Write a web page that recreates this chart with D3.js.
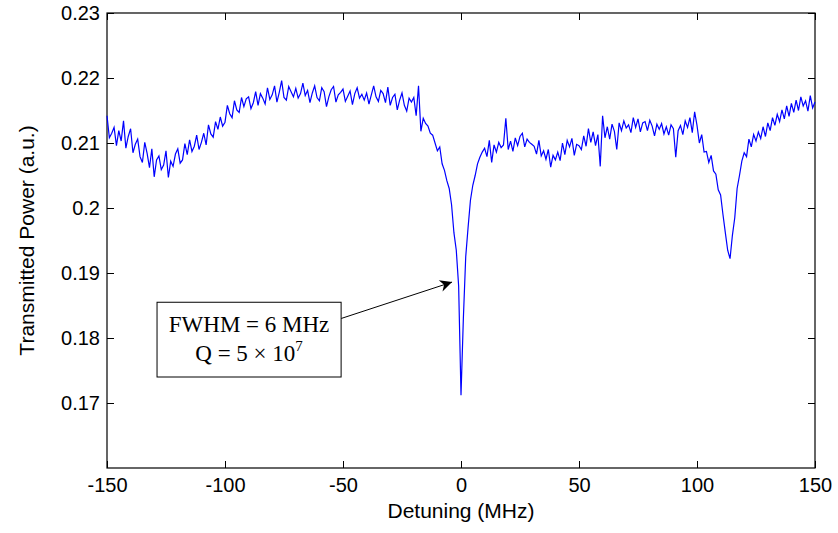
<!DOCTYPE html>
<html lang="en">
<head>
  <meta charset="UTF-8">
  <title>transmission-dip</title>
  <script src="https://cdn.jsdelivr.net/npm/d3@7"></script>
  <style>
    body { margin: 0; background: #fff; }
    text { font-family: Arial, "Liberation Sans", sans-serif; }
  </style>
</head>
<body>
<svg></svg>
<script>
  const width = 838, height = 533
  const margin = {top: 13, right: 23, bottom: 65, left: 107}

  // detuning (MHz), 1 MHz steps from -150 to 150
  const detuning = d3.range(-150, 151, 1)
  // transmitted power (a.u.)
  const power = [
    .2142, .2108, .2115, .2124, .2096, .2119, .2103, .2134, .2092, .2110,
    .2122, .2085, .2098, .2106, .2079, .2070, .2101, .2084, .2062, .2091,
    .2048, .2074, .2080, .2059, .2066, .2088, .2047, .2072, .2064, .2083,
    .2091, .2069, .2074, .2099, .2082, .2105, .2087, .2095, .2112, .2090,
    .2101, .2115, .2097, .2128, .2114, .2109, .2133, .2121, .2140, .2126,
    .2132, .2158, .2145, .2139, .2165, .2151, .2147, .2170, .2156, .2168,
    .2171, .2153, .2162, .2179, .2158, .2176, .2169, .2160, .2185, .2167,
    .2174, .2188, .2163, .2178, .2196, .2170, .2166, .2187, .2179, .2171,
    .2184, .2169, .2176, .2192, .2173, .2181, .2162, .2177, .2188, .2170,
    .2165, .2185, .2179, .2156, .2171, .2182, .2187, .2163, .2174, .2178,
    .2183, .2164, .2172, .2180, .2159, .2176, .2185, .2169, .2175, .2166,
    .2177, .2160, .2174, .2188, .2171, .2164, .2181, .2176, .2162, .2186,
    .2158, .2170, .2175, .2151, .2166, .2177, .2158, .2149, .2169, .2163,
    .2170, .2142, .2188, .2118, .2138, .2130, .2126, .2115, .2112, .2100,
    .2088, .2094, .2068, .2058, .2042, .2030, .2005, .1962, .1935, .1880,
    .1712,
    .1830, .1925, .1970, .2012, .2035, .2050, .2068, .2078, .2086, .2092,
    .2079, .2104, .2070, .2097, .2086, .2101, .2093, .2097, .2138, .2090,
    .2103, .2087, .2108, .2096, .2110, .2115, .2094, .2106, .2101, .2098,
    .2095, .2083, .2104, .2080, .2088, .2075, .2090, .2063, .2081, .2074,
    .2086, .2073, .2100, .2082, .2104, .2094, .2107, .2081, .2098, .2096,
    .2090, .2111, .2095, .2122, .2101, .2117, .2096, .2113, .2064, .2142,
    .2108, .2125, .2106, .2129, .2118, .2090, .2131, .2119, .2134, .2123,
    .2128, .2116, .2139, .2124, .2137, .2117, .2131, .2133, .2119, .2135,
    .2126, .2111, .2129, .2121, .2130, .2114, .2125, .2112, .2128, .2122,
    .2078, .2119, .2127, .2113, .2134, .2124, .2139, .2116, .2148, .2127,
    .2100, .2113, .2086, .2087, .2070, .2081, .2057, .2052, .2028, .2020,
    .1990, .1962, .1935, .1922, .1958, .1985, .2030, .2050, .2072, .2085,
    .2079, .2106, .2094, .2113, .2103, .2117, .2107, .2125, .2110, .2131,
    .2119, .2139, .2127, .2144, .2133, .2151, .2137, .2157, .2141, .2161,
    .2147, .2166, .2150, .2171, .2157, .2165, .2149, .2173, .2154, .2163
  ]
  const xTicks = [-150, -100, -50, 0, 50, 100, 150]
  const yTicks = [0.17, 0.18, 0.19, 0.2, 0.21, 0.22, 0.23]
  const noteLines = ['FWHM = 6 MHz', 'Q = 5 \u00d7 10']

  const data = detuning.map((d, i) => ({x: d, y: power[i]}))

  const svg = d3.select('svg')
      .attr('width', width)
      .attr('height', height)

  const x = d3.scaleLinear()
      .domain([-150, 150])
      .range([margin.left, width - margin.right])
  const y = d3.scaleLinear()
      .domain([0.16, 0.23])
      .range([height - margin.bottom, margin.top])

  const yFmt = d => d === 0.2 ? '0.2' : d3.format('.2f')(d)
  const xFmt = d => String(d)   // plain hyphen, like the original

  // ticks point inward, on all four sides
  svg.append('g')
      .attr('transform', `translate(0,${height - margin.bottom})`)
      .call(d3.axisBottom(x).tickValues(xTicks).tickSizeInner(-7).tickSizeOuter(0).tickPadding(10).tickFormat(xFmt))
      .call(g => g.selectAll('text').attr('font-size', 20).attr('fill', '#000'))
  svg.append('g')
      .attr('transform', `translate(0,${margin.top})`)
      .call(d3.axisTop(x).tickValues(xTicks).tickSizeInner(-7).tickSizeOuter(0).tickFormat(''))
  svg.append('g')
      .attr('transform', `translate(${margin.left},0)`)
      .call(d3.axisLeft(y).tickValues(yTicks).tickSizeInner(-7).tickSizeOuter(0).tickPadding(7).tickFormat(yFmt))
      .call(g => g.selectAll('text').attr('font-size', 20).attr('fill', '#000'))
  svg.append('g')
      .attr('transform', `translate(${width - margin.right},0)`)
      .call(d3.axisRight(y).tickValues(yTicks).tickSizeInner(-7).tickSizeOuter(0).tickFormat(''))

  svg.selectAll('.domain').remove()
  svg.selectAll('.tick line').attr('stroke', '#000')

  svg.append('rect')
      .attr('x', margin.left)
      .attr('y', margin.top)
      .attr('width', width - margin.left - margin.right)
      .attr('height', height - margin.top - margin.bottom)
      .attr('fill', 'none')
      .attr('stroke', '#000')
      .attr('stroke-width', 1.2)

  svg.append('path')
      .datum(data)
      .attr('fill', 'none')
      .attr('stroke', '#0000ff')
      .attr('stroke-width', 1.2)
      .attr('d', d3.line().x(d => x(d.x)).y(d => y(d.y)))

  // axis titles
  svg.append('text')
      .attr('x', x(0))
      .attr('y', 518)
      .attr('text-anchor', 'middle')
      .attr('font-size', 21)
      .text('Detuning (MHz)')
  svg.append('text')
      .attr('transform', `translate(34,${(margin.top + height - margin.bottom) / 2}) rotate(-90)`)
      .attr('text-anchor', 'middle')
      .attr('font-size', 21)
      .text('Transmitted Power (a.u.)')

  // annotation box + arrow
  svg.append('defs').append('marker')
      .attr('id', 'head')
      .attr('viewBox', '0 0 10 10')
      .attr('refX', 10).attr('refY', 5)
      .attr('markerWidth', 16).attr('markerHeight', 12)
      .attr('markerUnits', 'userSpaceOnUse')
      .attr('orient', 'auto')
    .append('path')
      .attr('d', 'M0,0 L10,5 L0,10 L3,5 Z')
      .attr('fill', '#000')

  const bx0 = x(-128.8), bx1 = x(-50.8), by0 = y(0.1855), by1 = y(0.1740)
  svg.append('line')
      .attr('x1', bx1).attr('y1', y(0.1830))
      .attr('x2', x(-3.8)).attr('y2', y(0.1886))
      .attr('stroke', '#000')
      .attr('stroke-width', 1)
      .attr('marker-end', 'url(#head)')

  svg.append('rect')
      .attr('x', bx0).attr('y', by0)
      .attr('width', bx1 - bx0).attr('height', by1 - by0)
      .attr('fill', '#fff')
      .attr('stroke', '#000')

  const note = svg.append('g')
      .attr('font-size', 23)
      .attr('text-anchor', 'middle')
  note.append('text')
      .attr('x', (bx0 + bx1) / 2)
      .attr('y', by0 + 30)
      .style('font-family', '"Liberation Serif", "Times New Roman", serif')
      .text(noteLines[0])
  const q = note.append('text')
      .attr('x', (bx0 + bx1) / 2)
      .attr('y', by0 + 59)
      .style('font-family', '"Liberation Serif", "Times New Roman", serif')
  q.append('tspan').text(noteLines[1])
  q.append('tspan').attr('dy', -10).attr('font-size', 15).text('7')
</script>
</body>
</html>
